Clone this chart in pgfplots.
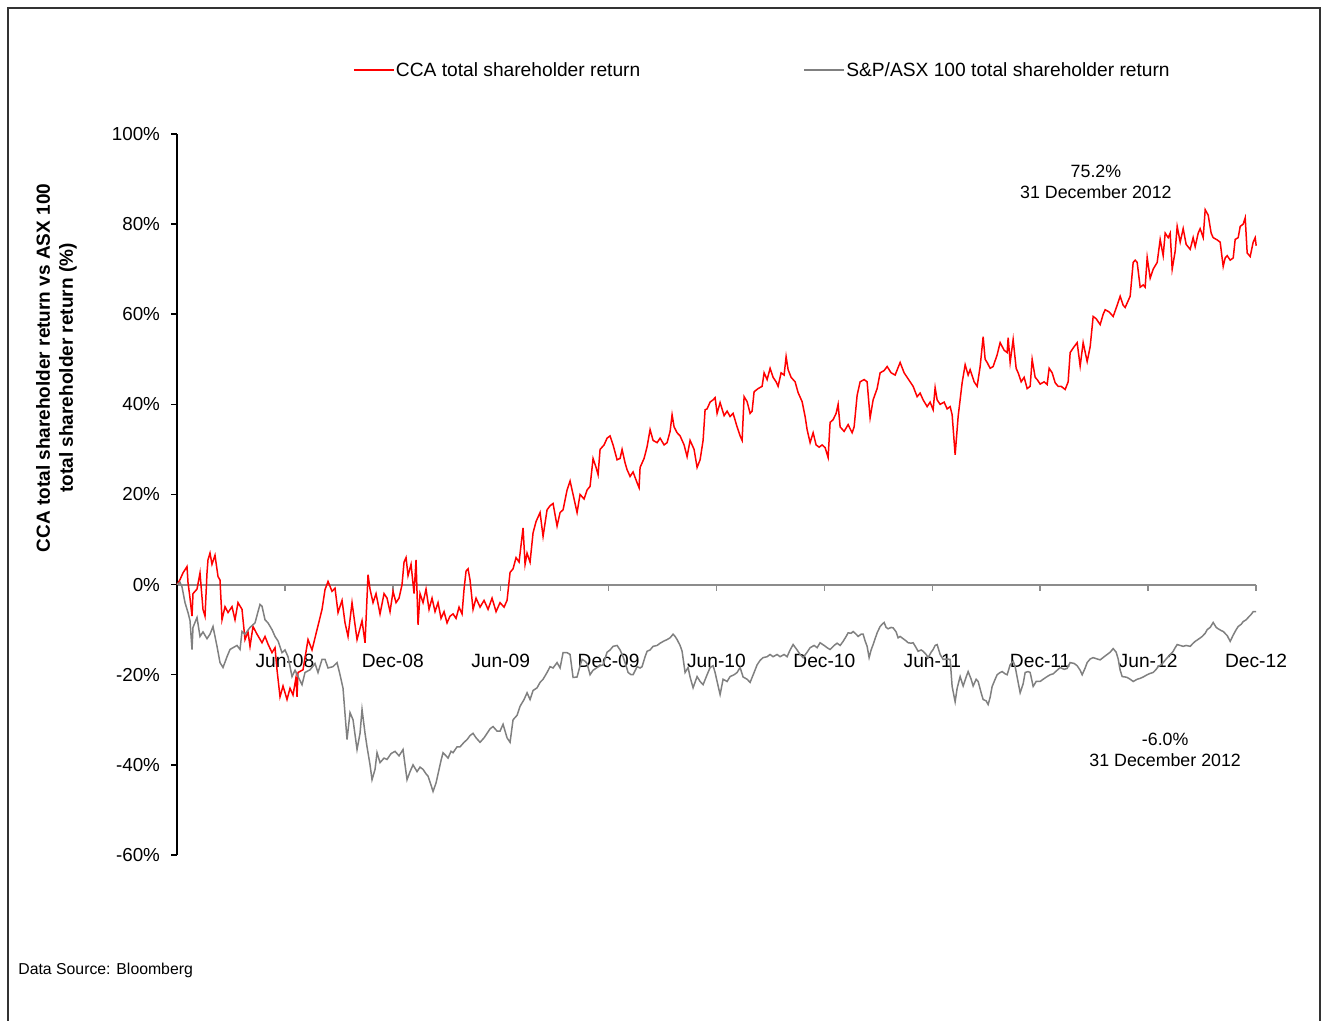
\documentclass[border=0pt]{standalone}
\usepackage{pgfplots}
\usepackage{pgfplotstable}
\pgfplotsset{compat=1.18}
\usepackage{fontspec}
\setmainfont{Liberation Sans}
\definecolor{ccared}{HTML}{FF0000}
\definecolor{asxgray}{HTML}{808080}
\definecolor{axgray}{HTML}{8C8C8C}

% x = pixel column of the source chart (Dec-07 = 177, Dec-12 = 1256), y = return in %
\pgfplotstableread{
px y
177 0
180 1.1
183 2.6
187 4.0
188 0.5
190 -3
192 -7.0
193 -2
197 -1
200 2.6
203 -5.5
205 -7.0
207 2.6
208 5.5
210 7.0
212 4.5
215 6.5
218 1.8
220 1.0
222 -7.8
225 -4.9
228 -6.2
232 -4.9
235 -7.8
238 -4.0
242 -5.5
245 -12.2
248 -10.5
250 -13.7
253 -9.3
257 -11
262 -12.9
265 -11.5
268 -13.2
272 -15.1
275 -14
277 -18.9
280 -24.9
283 -22.5
287 -25.5
290 -23
293 -24.5
296 -20.6
297 -24.9
298 -19.5
303 -18.9
308 -12.2
312 -14.5
317 -10
322 -5.5
325 -1.1
328 0.7
332 -1.5
335 -0.8
338 -6.2
342 -3.5
345 -8.5
348 -11.5
352 -4.0
357 -12.2
362 -8
365 -12.9
368 2.2
370 -1
373 -4
376 -2
380 -6.5
384 -2
387 -3
390 -6
393 -1.5
396 -4
399 -3
402 0
404 5.0
406 6.0
408 2
411 4.5
414 -2
416 5.5
418 -8.9
420 -2
423 -4
426 -1
429 -5.5
432 -3
435 -6
438 -4
441 -7.5
444 -6
447 -8.5
450 -7
453 -6.5
456 -7.5
459 -5
462 -6.5
464 -1
466 3.0
468 3.5
470 1
473 -5.5
476 -3
480 -5.0
484 -3.5
488 -5.5
492 -3
496 -6
500 -4
504 -5
507 -3.5
510 2.7
513 3.5
516 6.0
519 5
523 12.6
525 4.5
527 7.0
530 5.0
533 11.5
536 14
540 16.0
543 10.7
547 16.6
550 17.5
553 18.0
557 13.0
560 16
563 16.6
567 21
570 23.0
573 20
577 16.0
580 20.0
584 19
587 21
590 21.8
593 28.0
596 26
598 24.4
600 30.0
604 31
607 32.5
610 33.0
613 31
617 27.7
620 28
622 30.0
625 27
627 25.5
630 24
633 25
637 22.6
639 21.5
640 26.0
644 28
647 30.6
650 34.4
653 32
657 31.5
660 32.5
664 31
667 31.5
670 34
672 37.7
674 35
677 33.7
680 33
684 31
687 28.4
690 32.0
694 30
697 26.0
700 27.7
703 32.0
705 38.8
707 39
710 40.5
713 41.0
715 41.5
717 38
720 40.4
724 37.5
727 38.5
730 37.3
733 38
737 35
740 33
742 32
744 41.7
747 40.6
750 38
752 38.5
754 42.8
758 43.5
762 44
764 47
767 45.5
770 48
773 46
776 45
778 44
781 47
784 46.5
786 50.6
788 47.7
791 46
795 45
798 42.6
802 40.6
805 37.3
807 34.4
810 31.5
813 33.7
816 31
819 30.5
822 31
825 30.4
828 28.2
830 36
833 36.6
836 38
838 40
840 35
844 34
848 35.5
852 33.7
854 35
857 42
860 45
864 45.5
867 45
870 37
873 41
877 43.5
880 47
884 47.5
887 48.4
891 47
895 46.5
900 49.3
904 47
907 46
910 45
913 44
917 41.7
920 42.5
923 41
927 39.5
930 40.5
933 38.8
935 43.7
937 41
940 40
944 40.5
947 39
950 39.5
952 37.7
955 28.8
958 37.3
962 44.8
965 48.8
968 46.5
970 47.7
974 45
977 44
980 48.4
983 55.0
985 50
987 49.3
990 48
993 48.4
997 51
1000 53.7
1004 52
1007 51.5
1008 54.8
1010 49.3
1013 54.4
1016 48
1018 47
1021 45
1024 46
1027 43.5
1030 44
1032 50
1035 46
1037 45.5
1040 44.5
1044 45
1047 44.4
1049 48
1052 47
1055 44.8
1058 44
1061 44
1065 43.3
1068 45
1070 51.5
1073 52.5
1077 53.7
1080 48.5
1083 53.7
1087 49.5
1090 52.8
1093 59.5
1096 59
1100 57.7
1103 60
1105 61
1109 60.5
1113 59.5
1117 62
1120 64
1123 62
1125 61.5
1130 64
1133 71.5
1135 72
1137 71.5
1140 66
1143 66.5
1145 66
1147 72.6
1150 68
1153 70
1157 71.5
1160 76.6
1163 73
1165 78
1168 77
1170 78
1172 70
1175 74
1177 79.5
1180 76
1183 79
1186 75.5
1190 74.4
1193 77
1195 75
1198 78
1200 79
1203 77
1205 83.2
1208 82
1211 78
1213 77
1217 76.5
1220 76
1223 70.6
1225 72.5
1227 73
1230 72
1233 72.5
1235 76.6
1238 77
1240 79.5
1243 80
1245 81.4
1247 73.6
1250 72.8
1253 76
1255 77
1256 75.2
}\ccadata

\pgfplotstableread{
px y
177 0
180 0.5
182 -0.5
185 -4.0
188 -6.2
190 -8
192 -14.4
193 -9.5
197 -7.3
200 -11.5
203 -10.5
207 -12
210 -11
213 -9.3
217 -13.7
220 -17.3
223 -18.4
227 -16
230 -14.4
233 -14
237 -13.5
240 -14.4
242 -10.4
245 -11
250 -9.5
255 -8.5
258 -6
260 -4.4
262 -4.8
265 -7.8
268 -8.5
272 -10
275 -11.5
278 -12.5
282 -15.1
285 -14.5
288 -16
292 -20.4
295 -19
298 -20.4
302 -22.2
305 -19.5
310 -18.9
315 -17.5
318 -19.5
322 -16.6
325 -16.6
328 -18.5
333 -18.2
337 -17.3
340 -20
343 -23
347 -34.4
350 -28.4
353 -30
357 -36.6
360 -33
362 -27.7
365 -33
367 -36
370 -40
372 -43.3
375 -41
377 -37.3
380 -39.5
384 -38.5
387 -38.8
391 -37.5
395 -37
399 -38
403 -36.6
405 -40
407 -43.3
410 -41.5
413 -40
417 -41.5
420 -40.5
423 -41
426 -42
428 -42.5
431 -44.5
433 -45.9
436 -44
438 -42
441 -39
443 -37.3
446 -38
448 -38.5
451 -37
453 -37.3
457 -36
460 -36
464 -35
467 -34.4
470 -33.5
473 -33
476 -34
480 -35
484 -34
487 -33
490 -32
493 -31.5
497 -32.5
500 -32.5
503 -31
507 -34
510 -35
513 -30
517 -29
520 -27
524 -25.5
527 -24
530 -25.5
533 -23.5
537 -22.9
540 -21.7
543 -21
547 -19.5
550 -18.2
553 -18.5
557 -17.3
560 -18.5
563 -15.1
567 -15.1
570 -15.5
573 -20.6
577 -20.5
580 -18
582 -16.6
585 -17
587 -17.5
590 -20
593 -19
597 -18.4
600 -18
603 -17.8
607 -15
610 -14.5
613 -13.7
617 -13.5
620 -14.5
623 -16
626 -18
628 -19.5
631 -20
633 -20
637 -18.2
640 -18.5
642 -18.2
645 -16
647 -14.8
650 -14.5
653 -13.7
657 -13.5
660 -13
664 -12.5
667 -12.2
670 -11.8
673 -11
675 -11.5
677 -12.2
680 -13.5
682 -14.8
685 -19.5
688 -18.4
690 -20.5
693 -22.9
697 -20.4
700 -21.5
703 -22.2
707 -20
710 -18.4
713 -18
715 -19.5
717 -21.5
720 -24.4
723 -21
727 -21.5
730 -20.4
734 -20
737 -19.5
740 -18.4
743 -20.5
747 -21
750 -21.7
754 -19.5
757 -17.8
760 -16.8
763 -16.2
767 -16
770 -15.5
773 -16
777 -15.5
780 -16
784 -15.5
787 -16
790 -14.5
793 -13.3
797 -14.5
800 -15.5
803 -16.2
807 -15
810 -14
814 -13.5
817 -14
820 -12.9
824 -13.5
827 -14
830 -14.4
834 -13.5
837 -13
840 -13.5
843 -12.6
846 -11.5
848 -10.7
851 -10.8
853 -10.4
856 -11
858 -11.5
861 -11
863 -11
865 -12.5
867 -13.7
869 -16.2
871 -14.5
873 -13.3
875 -12
877 -10.7
880 -9.3
882 -8.8
884 -8.4
886 -9.5
888 -9.8
891 -9.5
893 -9.6
896 -10.5
898 -11.8
900 -11.5
903 -12
906 -12.5
908 -12.9
911 -13
913 -12.9
916 -14
918 -14.8
921 -14.5
923 -14.8
926 -15.5
928 -16.2
931 -15
933 -14.4
935 -13.5
937 -13.3
940 -15.5
943 -16.6
947 -16.5
950 -16.6
952 -22.6
955 -26
957 -23
960 -20.4
963 -22.5
966 -20.5
968 -19.3
971 -21
973 -22.5
976 -21
978 -21.5
981 -24
983 -25.5
986 -25.8
988 -26.6
990 -25
992 -22.6
995 -21
997 -20
1000 -19.5
1002 -19.3
1005 -19.8
1007 -20
1010 -17.8
1013 -17
1015 -18.2
1018 -21.7
1020 -24
1023 -22
1025 -19.5
1028 -19.3
1030 -19.5
1033 -22.6
1036 -21.5
1040 -21.5
1043 -21
1047 -20.4
1050 -20
1053 -19.8
1057 -19
1060 -18.4
1064 -18.8
1067 -18.6
1070 -17.3
1074 -17.5
1077 -18
1080 -19
1082 -20
1085 -18.5
1087 -17.3
1090 -16.5
1093 -16.2
1097 -16.5
1100 -16.7
1104 -16
1107 -15.5
1110 -15
1113 -14.2
1116 -15
1118 -16.5
1120 -19
1122 -20.4
1125 -20.5
1127 -20.6
1130 -21
1133 -21.5
1137 -21
1140 -20.8
1143 -20.5
1147 -20
1150 -19.7
1153 -19.5
1156 -18.8
1158 -18.2
1161 -17.8
1163 -17.3
1166 -16.5
1168 -16
1171 -15.3
1173 -14.8
1175 -14
1177 -13.3
1180 -13.5
1183 -13.7
1186 -13.5
1190 -13.7
1193 -13
1195 -12.6
1199 -12
1202 -11.5
1205 -10.8
1207 -10
1210 -9.5
1213 -8.4
1216 -9.5
1218 -9.8
1221 -10.2
1223 -10.4
1227 -11.3
1230 -12.6
1233 -11.2
1236 -10
1238 -9.3
1241 -8.8
1243 -8.2
1246 -7.8
1248 -7.3
1251 -6.6
1253 -6.0
1256 -6.0
}\asxdata

\begin{document}
\begin{tikzpicture}[x=1pt,y=1pt]
\begin{axis}[
  at={(88.5pt,83pt)}, anchor=south west,
  width=539.5pt, height=360.5pt, scale only axis,
  xmin=0, xmax=60, ymin=-60, ymax=100,
  axis x line=middle, axis y line=left,
  axis line style={-},
  x axis line style={draw=axgray, line width=1pt},
  y axis line style={draw=black, line width=0.75pt},
  xtick={0,6,...,60},
  xticklabels={Dec-07,Jun-08,Dec-08,Jun-09,Dec-09,Jun-10,Dec-10,Jun-11,Dec-11,Jun-12,Dec-12},
  ytick={-60,-40,...,100},
  yticklabel={\pgfmathprintnumber{\tick}\%},
  /pgf/number format/assume math mode=true,
  tick align=outside,
  major tick length=3pt,
  x tick style={draw=axgray, line width=0.75pt},
  y tick style={draw=black, line width=0.75pt},
  x tick label style={anchor=center, yshift=-35pt, font=\fontsize{9.6}{11}\selectfont},
  y tick label style={xshift=-2pt, font=\fontsize{9.4}{11}\selectfont},
  legend columns=2,
  legend style={at={(0.542,1.087)}, anchor=center, draw=none, fill=none,
    inner sep=0pt, font=\fontsize{9.6}{11}\selectfont,
    nodes={inner sep=0.5pt},
    /tikz/every odd column/.append style={column sep=0pt},
    /tikz/every even column/.append style={column sep=81pt}},
  clip=false,
]
\addplot[ccared, line width=0.75pt, legend image code/.code={}]
  table[x expr={(\thisrow{px}-177)/17.98}, y=y] {\ccadata};
\addlegendentry{\textcolor{ccared}{\rule[3.1pt]{20pt}{0.75pt}}\hspace{1pt}CCA total shareholder return}
\addplot[asxgray, line width=0.75pt, legend image code/.code={}]
  table[x expr={(\thisrow{px}-177)/17.98}, y=y] {\asxdata};
\addlegendentry{\textcolor{asxgray}{\rule[3.1pt]{20pt}{0.75pt}}\hspace{1pt}S\&P/ASX 100 total shareholder return}
\node[align=center, font=\fontsize{8.9}{10.5}\selectfont] at (axis cs:51.1,89.3) {75.2\%\\31 December 2012};
\node[align=center, font=\fontsize{8.9}{10.5}\selectfont] at (axis cs:54.95,-36.7) {-6.0\%\\31 December 2012};
\end{axis}
\node[rotate=90, align=center, font=\bfseries\fontsize{9.5}{11.5}\selectfont] at (28.25,326.5)
  {CCA total shareholder return vs ASX 100\\total shareholder return (\%)};
\node[anchor=west, inner sep=0pt, font=\fontsize{7.9}{9}\selectfont] at (9,25.5) {Data Source: Bloomberg};
% outer frame
\draw[line width=1pt, color=black!80] (4,-2) -- (4,506.5) -- (660,506.5) -- (660,-2);
\pgfresetboundingbox
\path[use as bounding box] (0,0) rectangle (664,510.5);
\end{tikzpicture}
\end{document}
